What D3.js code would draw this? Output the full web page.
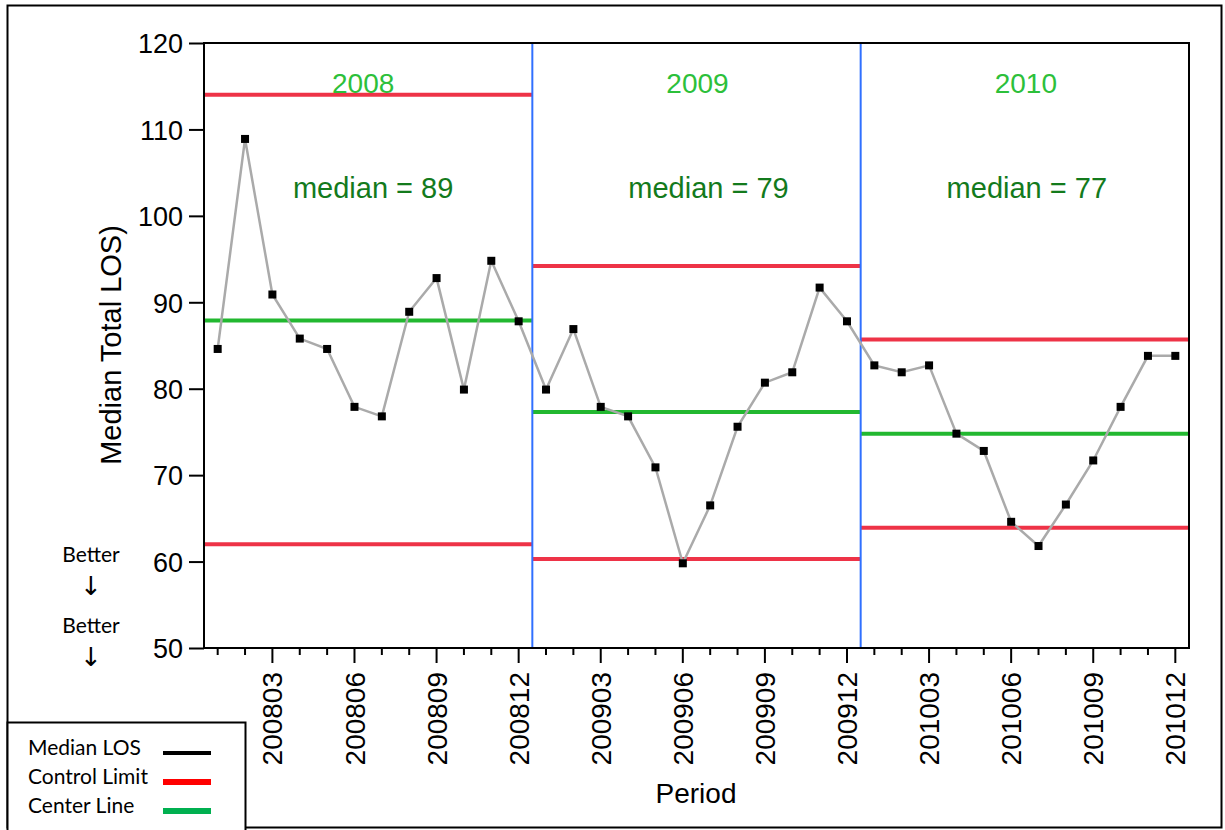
<!DOCTYPE html>
<html><head><meta charset="utf-8">
<script src="https://cdn.jsdelivr.net/npm/d3@7"></script>
<style>body{margin:0;background:#fff}svg{display:block}</style>
</head><body>
<svg id="c" width="1225" height="830"></svg>
<script>
const periods = [];
["2008","2009","2010"].forEach(y=>{for(let m=1;m<=12;m++)periods.push(y+String(m).padStart(2,"0"));});
const medianLOS = [84.6,108.9,90.9,85.8,84.6,77.9,76.8,88.9,92.8,79.9,94.8,87.8,
                   79.9,86.9,77.9,76.8,70.9,59.8,66.5,75.6,80.7,81.9,91.7,87.8,
                   82.7,81.9,82.7,74.8,72.8,64.6,61.8,66.6,71.7,77.9,83.8,83.8];
const years = ["2008","2009","2010"];
const ucl = [114.0,94.2,85.7];
const centerLine = [87.9,77.3,74.8];
const lcl = [62.0,60.3,63.9];
const medianLabels = ["median = 89","median = 79","median = 77"];
const yTicks = [50,60,70,80,90,100,110,120];
const xTickLabels = periods.filter((p,i)=>i%3===2);
const legendItems = ["Median LOS","Control Limit","Center Line"];

const svg = d3.select("#c");
const L=204,R=1189,T=43,B=648;
const x = d3.scaleBand().domain(periods).range([L,R]);
const y = d3.scaleLinear().domain([50,120]).range([B,T]);
const cx = p => x(p)+x.bandwidth()/2;
const red="#ee3347", green="#22b830", blue="#3070ff";
const yearDx = [-5,1,1], medDx = [5,12,2];

// outer frame
svg.append("rect").attr("x",7.5).attr("y",5.5).attr("width",1214).attr("height",822).attr("fill","none").attr("stroke","#000").attr("stroke-width",2);

// year segments
years.forEach((yr,i)=>{
  const x0 = x(periods[i*12]), x1 = x(periods[i*12+11])+x.bandwidth();
  const g = svg.append("g");
  g.append("line").attr("x1",x0).attr("x2",x1).attr("y1",y(ucl[i])).attr("y2",y(ucl[i])).attr("stroke",red).attr("stroke-width",4);
  g.append("line").attr("x1",x0).attr("x2",x1).attr("y1",y(lcl[i])).attr("y2",y(lcl[i])).attr("stroke",red).attr("stroke-width",4);
  g.append("line").attr("x1",x0).attr("x2",x1).attr("y1",y(centerLine[i])).attr("y2",y(centerLine[i])).attr("stroke",green).attr("stroke-width",4);
  const mid=(x0+x1)/2;
  g.append("text").attr("x",mid+yearDx[i]).attr("y",93).attr("text-anchor","middle").attr("font-family","Liberation Sans, Arial").attr("font-size",28).attr("fill","#2cc03a").text(yr);
  g.append("text").attr("x",mid+medDx[i]).attr("y",198).attr("text-anchor","middle").attr("font-family","Liberation Sans, Arial").attr("font-size",29).attr("fill","#137a1c").text(medianLabels[i]);
  if(i>0) svg.append("line").attr("x1",x0).attr("x2",x0).attr("y1",T).attr("y2",B).attr("stroke",blue).attr("stroke-width",2);
});

// data line
const line = d3.line().x((d,i)=>cx(periods[i])).y(d=>y(d));
svg.append("path").datum(medianLOS).attr("d",line).attr("fill","none").attr("stroke","#aaaaaa").attr("stroke-width",2.5);
svg.selectAll("rect.pt").data(medianLOS).enter().append("rect").attr("class","pt")
  .attr("x",(d,i)=>cx(periods[i])-4).attr("y",d=>y(d)-4).attr("width",8).attr("height",8).attr("fill","#000");

// plot frame
svg.append("rect").attr("x",L).attr("y",T).attr("width",R-L).attr("height",B-T).attr("fill","none").attr("stroke","#000").attr("stroke-width",2);

// y axis
const ya = svg.append("g").attr("transform",`translate(${L},0)`)
  .call(d3.axisLeft(y).tickValues(yTicks).tickSize(15).tickPadding(6));
ya.select(".domain").remove();
ya.selectAll("line").attr("stroke","#000").attr("stroke-width",2);
ya.selectAll("text").attr("font-family","Liberation Sans, Arial").attr("font-size",27).attr("fill","#000").attr("dy","0.36em");

// x axis
const xa = svg.append("g").attr("transform",`translate(0,${B})`)
  .call(d3.axisBottom(x).tickSize(7).tickFormat(""));
xa.select(".domain").remove();
xa.selectAll("line").attr("stroke","#000").attr("stroke-width",2);
xa.selectAll(".tick").filter(d=>xTickLabels.includes(d)).select("line").attr("y2",15);
xa.selectAll(".tick").filter(d=>xTickLabels.includes(d)).append("text")
  .attr("transform","rotate(-90)").attr("x",-24).attr("y",0).attr("dy","0.36em")
  .attr("text-anchor","end").attr("font-family","Liberation Sans, Arial").attr("font-size",28).attr("fill","#000").text(d=>d);

// axis titles
svg.append("text").attr("transform","translate(121,345) rotate(-90)").attr("text-anchor","middle")
  .attr("font-family","Liberation Sans, Arial").attr("font-size",29).text("Median Total LOS)");
svg.append("text").attr("x",696).attr("y",803).attr("text-anchor","middle")
  .attr("font-family","Liberation Sans, Arial").attr("font-size",28).text("Period");

// Better annotations
[562,633].forEach(yy=>{
  svg.append("text").attr("x",91).attr("y",yy).attr("text-anchor","middle").attr("font-family","Lato, Open Sans, sans-serif").attr("font-size",21).attr("fill","#000").text("Better");
  svg.append("text").attr("x",91).attr("y",yy+33).attr("text-anchor","middle").attr("font-family","DejaVu Sans").attr("font-size",26).attr("fill","#000").text("\u2193");
});

// legend
svg.append("rect").attr("x",7.5).attr("y",722.5).attr("width",238).attr("height",110).attr("fill","#fff").attr("stroke","#000").attr("stroke-width",2);
const legColors = ["#000","#ff0000","#00b050"];
const legW = [4,6,6];
legendItems.forEach((t,i)=>{
  const yy = 755 + i*29;
  svg.append("text").attr("x",28).attr("y",yy).attr("font-family","Lato, Open Sans, sans-serif").attr("font-size",21).attr("fill","#000").text(t);
  svg.append("line").attr("x1",163).attr("x2",211).attr("y1",yy-2).attr("y2",yy-2).attr("stroke",legColors[i]).attr("stroke-width",legW[i]);
});
</script>
</body></html>
